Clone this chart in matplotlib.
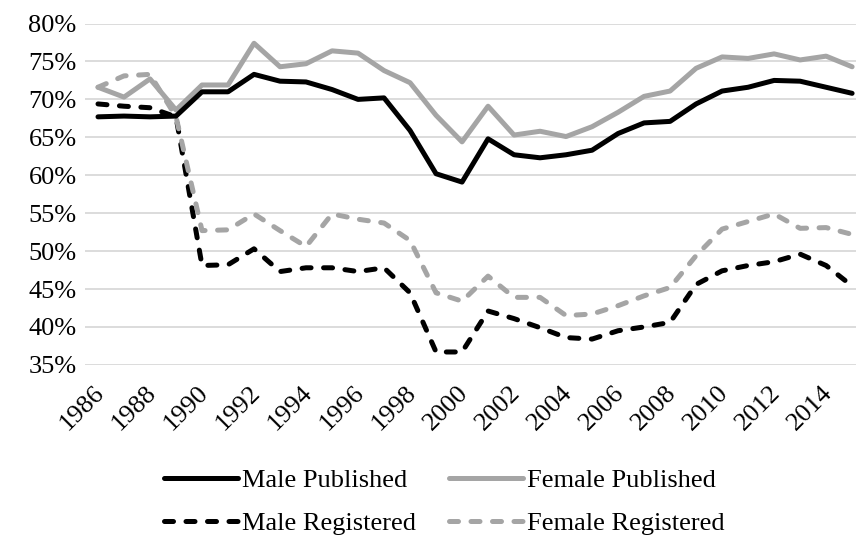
import matplotlib
matplotlib.use("Agg")
import matplotlib.pyplot as plt
import matplotlib.transforms as mtrans
from matplotlib.ticker import FuncFormatter

# data (percent)
years = list(range(1986, 2016))
male_published = [67.7, 67.8, 67.7, 67.8, 71.0, 71.0, 73.3, 72.4, 72.3, 71.3,
                  70.0, 70.2, 65.9, 60.2, 59.1, 64.8, 62.7, 62.3, 62.7, 63.3,
                  65.5, 66.9, 67.1, 69.4, 71.1, 71.6, 72.5, 72.4, 71.6, 70.8]
female_published = [71.6, 70.3, 72.7, 68.6, 71.9, 71.9, 77.4, 74.3, 74.7, 76.4,
                    76.1, 73.8, 72.2, 67.9, 64.4, 69.1, 65.3, 65.8, 65.1, 66.4,
                    68.3, 70.4, 71.1, 74.1, 75.6, 75.4, 76.0, 75.2, 75.7, 74.3]
male_registered = [69.4, 69.1, 68.9, 67.7, 48.1, 48.2, 50.3, 47.3, 47.8, 47.8,
                   47.3, 47.8, 44.5, 36.7, 36.7, 42.1, 41.1, 39.9, 38.6, 38.4,
                   39.5, 40.0, 40.6, 45.6, 47.4, 48.1, 48.6, 49.6, 48.1, 45.4]
female_registered = [71.6, 73.1, 73.3, 67.7, 52.7, 52.8, 54.9, 52.7, 50.6, 54.9,
                     54.2, 53.7, 51.4, 44.5, 43.4, 46.7, 43.9, 43.9, 41.5, 41.7,
                     42.8, 44.1, 45.2, 49.4, 52.9, 53.9, 54.9, 53.0, 53.1, 52.2]
year_ticks = list(range(1986, 2015, 2))
pct_ticks = list(range(35, 81, 5))

BLACK = "#000000"
GRAY = "#a5a5a5"

plt.rcParams["font.family"] = ["Liberation Serif", "DejaVu Serif"]
plt.rcParams["font.size"] = 19

fig = plt.figure(figsize=(8.56, 5.35), dpi=100)
ax = fig.add_axes([0.0993, 0.318, 0.9007, 0.638])

lw = 3.6
mp, = ax.plot(years, male_published, color=BLACK, lw=lw, solid_capstyle="round",
              solid_joinstyle="round", label="Male Published")
fp, = ax.plot(years, female_published, color=GRAY, lw=lw, solid_capstyle="round",
              solid_joinstyle="round", label="Female Published")
mr, = ax.plot(years, male_registered, color=BLACK, lw=lw, dashes=(1.8, 2.5),
              dash_capstyle="round", dash_joinstyle="round", label="Male Registered")
fr, = ax.plot(years, female_registered, color=GRAY, lw=lw, dashes=(1.8, 2.5),
              dash_capstyle="round", dash_joinstyle="round", label="Female Registered")
# published lines on top
mp.set_zorder(4)
fp.set_zorder(3)

ax.set_xlim(1985.5, 2015.15)
ax.set_ylim(35, 80)
ax.set_yticks(pct_ticks)
ax.yaxis.set_major_formatter(FuncFormatter(lambda v, p: f"{v:.0f}%"))
ax.set_xticks(year_ticks)
ax.set_xticklabels([str(y) for y in year_ticks], rotation=45, ha="right",
                   va="center", rotation_mode="anchor")
ax.tick_params(axis="both", length=0)
ax.tick_params(axis="y", pad=6)
ax.tick_params(axis="x", pad=17.5)
# nudge year labels a bit to the right
shift = mtrans.ScaledTranslation(3 / 100, 0, fig.dpi_scale_trans)
for lab in ax.get_xticklabels():
    lab.set_transform(lab.get_transform() + shift)
ax.grid(axis="y", color="#d9d9d9", lw=1.3)
ax.set_axisbelow(True)
for s in ax.spines.values():
    s.set_visible(False)

fig.legend(handles=[mp, mr, fp, fr], ncol=2, loc="center",
           bbox_to_anchor=(444 / 856, 0.062), frameon=False,
           handlelength=2.8, handletextpad=0.15, columnspacing=1.25,
           labelspacing=0.75)

fig.savefig("out.png", dpi=100)
